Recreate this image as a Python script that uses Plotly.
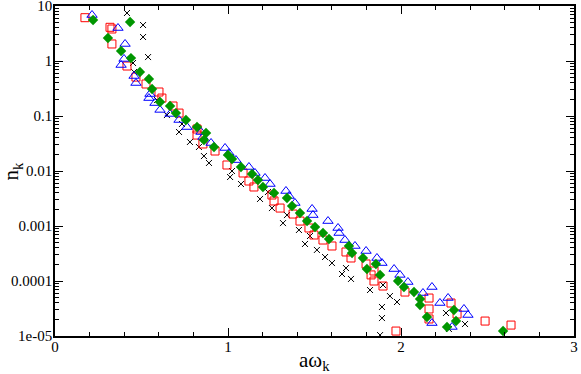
import plotly.graph_objects as go

# a*omega_k and n_k, one pair of lists per series
x_black = [0.416, 0.509, 0.509, 0.538, 0.451, 0.457, 0.590, 0.647, 0.734, 0.717,
           0.780, 0.832, 0.861, 0.890, 1.023, 1.012, 1.075, 1.231, 1.185, 1.254,
           1.341, 1.318, 1.410, 1.474, 1.445, 1.514, 1.561, 1.601, 1.682, 1.659,
           1.711, 1.821, 1.896, 1.936, 1.977, 1.890, 1.890, 1.879, 2.260, 2.370,
           2.277]
n_black = [7.46, 4.51, 2.73, 1.18, 0.92, 0.631, 0.195, 0.104, 0.0716, 0.0512,
           0.0337, 0.0273, 0.0187, 0.014, 0.01, 0.00778, 0.0058, 0.00415, 0.0031, 0.00212,
           0.00158, 0.00113, 0.000846, 0.000658, 0.000471, 0.000367, 0.000273, 0.000212, 0.000172, 0.000134,
           0.000109, 6.86e-5, 8.46e-5, 5.33e-5, 4.15e-5, 3.37e-5, 2.12e-5, 1.04e-5, 2.62e-5, 1.65e-5,
           1.34e-5]

x_red = [0.173, 0.318, 0.329, 0.329, 0.416, 0.468, 0.526, 0.601, 0.618, 0.682,
         0.717, 0.821, 0.821, 0.855, 0.925, 0.994, 1.087, 1.121, 1.150, 1.254,
         1.266, 1.301, 1.376, 1.416, 1.468, 1.497, 1.549, 1.601, 1.682, 1.711,
         1.798, 1.844, 1.827, 1.844, 1.896, 2.023, 2.162, 2.162, 2.162, 2.289,
         2.324, 2.486, 2.636, 1.971]
n_red = [6.13, 4.10, 3.82, 2.04, 0.81, 0.51, 0.382, 0.273, 0.212, 0.152,
         0.113, 0.058, 0.045, 0.031, 0.0231, 0.01285, 0.0092, 0.00658, 0.00512, 0.00366,
         0.00285, 0.00212, 0.00165, 0.00123, 0.00092, 0.000686, 0.000556, 0.000433, 0.000337, 0.000262,
         0.000204, 0.000152, 0.000129, 0.0001, 8.1e-5, 6.3e-5, 4.9e-5, 3.1e-5, 2.04e-5, 3.98e-5,
         2.51e-5, 1.87e-5, 1.58e-5, 1.23e-5]

x_blue = [0.214, 0.364, 0.405, 0.399, 0.382, 0.457, 0.468, 0.549, 0.543, 0.578,
          0.607, 0.665, 0.717, 0.763, 0.844, 0.855, 0.902, 0.983, 1.006, 1.046,
          1.121, 1.156, 1.214, 1.243, 1.335, 1.353, 1.387, 1.486, 1.491, 1.578,
          1.636, 1.642, 1.676, 1.734, 1.798, 1.861, 1.890, 1.960, 1.994, 2.040,
          2.127, 2.179, 2.225, 2.272, 2.179, 2.364, 2.387, 2.295]
n_blue = [6.86, 3.98, 2.04, 1.09, 0.846, 0.534, 0.398, 0.251, 0.212, 0.172,
          0.129, 0.109, 0.0846, 0.063, 0.0512, 0.0415, 0.0323, 0.0262, 0.0212, 0.0158,
          0.01183, 0.0092, 0.00746, 0.0058, 0.00433, 0.00351, 0.00262, 0.00204, 0.00158, 0.00123,
          0.00092, 0.000746, 0.000556, 0.000433, 0.000351, 0.000262, 0.000212, 0.000165, 0.000129, 9.59e-5,
          6.05e-5, 7.78e-5, 3.98e-5, 4.91e-5, 1.72e-5, 3.1e-5, 2.41e-5, 1.46e-5]

x_green = [0.220, 0.434, 0.306, 0.382, 0.439, 0.491, 0.543, 0.561, 0.607, 0.665,
           0.699, 0.757, 0.821, 0.873, 0.861, 0.919, 1.000, 1.023, 1.075, 1.139,
           1.173, 1.202, 1.266, 1.341, 1.370, 1.416, 1.457, 1.503, 1.549, 1.584,
           1.699, 1.717, 1.780, 1.855, 1.803, 1.879, 1.983, 2.017, 2.075, 2.110,
           2.110, 2.150, 2.266, 2.306, 2.318, 2.590]
n_green = [5.56, 5.12, 2.62, 1.52, 1.13, 0.631, 0.471, 0.31, 0.18, 0.152,
           0.113, 0.0846, 0.063, 0.0491, 0.0366, 0.0273, 0.0195, 0.0165, 0.01183, 0.00882,
           0.00686, 0.00512, 0.00398, 0.00323, 0.00231, 0.00172, 0.00123, 0.00096, 0.000746, 0.00058,
           0.000433, 0.000323, 0.000262, 0.000204, 0.000165, 0.000129, 0.0001, 7.78e-5, 6.3e-5, 4.71e-5,
           3.67e-5, 2.22e-5, 1.46e-5, 2.97e-5, 1.87e-5, 1.23e-5]

y_ticks = [1e-5, 1e-4, 1e-3, 1e-2, 1e-1, 1, 10]
y_labels = ["1e-05", "0.0001", "0.001", "0.01", "0.1", "1", "10"]
y_minor = [m * d for d in [1e-5, 1e-4, 1e-3, 1e-2, 1e-1, 1] for m in range(2, 10)]

serif = "Liberation Serif"

fig = go.Figure()
fig.add_trace(go.Scatter(x=x_black, y=n_black, mode="markers",
                         marker=dict(symbol="x-thin-open", size=6, color="black",
                                     line=dict(width=1, color="black"))))
fig.add_trace(go.Scatter(x=x_red, y=n_red, mode="markers",
                         marker=dict(symbol="square-open", size=8, color="#ff0000",
                                     line=dict(width=1))))
fig.add_trace(go.Scatter(x=x_blue, y=n_blue, mode="markers",
                         marker=dict(symbol="triangle-up-open", size=9, color="#0000ff",
                                     line=dict(width=1))))
fig.add_trace(go.Scatter(x=x_green, y=n_green, mode="markers",
                         marker=dict(symbol="diamond", size=8, color="#009600",
                                     line=dict(width=0))))

axis_common = dict(showline=True, linecolor="black", linewidth=1.5, mirror="allticks",
                   ticks="inside", ticklen=8, tickcolor="black", tickwidth=1,
                   showgrid=False, zeroline=False, automargin=False,
                   ticklabeloverflow="allow",
                   tickfont=dict(family=serif, size=15, color="black"))

fig.update_xaxes(range=[0, 3], tickvals=[0, 1, 2, 3], ticklabelstandoff=-4,
                 minor=dict(ticks="inside", ticklen=4, tickcolor="black", dtick=0.2, showgrid=False),
                 **axis_common)
fig.update_yaxes(type="log", range=[-5, 1], tickvals=y_ticks, ticktext=y_labels,
                 ticklabelstandoff=-2,
                 minor=dict(ticks="inside", ticklen=4, tickcolor="black",
                            tickmode="array", tickvals=y_minor, showgrid=False),
                 **axis_common)

# axis titles placed as annotations so they sit where the reference has them
fig.add_annotation(text="aω<sub>k</sub>", xref="paper", yref="paper", x=0.5, y=-0.075,
                   xanchor="center", yanchor="middle", showarrow=False,
                   font=dict(family=serif, size=21, color="black"))
fig.add_annotation(text="n<sub>k</sub>", xref="paper", yref="paper", x=-0.082, y=0.5,
                   xanchor="center", yanchor="middle", showarrow=False, textangle=-90,
                   font=dict(family=serif, size=21, color="black"))

fig.update_layout(width=581, height=374, showlegend=False,
                  margin=dict(l=55, r=7, t=6, b=38),
                  plot_bgcolor="white", paper_bgcolor="white")

# drop the browser's default 8px body margin so the figure sits at the page corner
fig.write_html("out.html", config={"displayModeBar": False},
               post_script="document.body.style.margin='0';")
